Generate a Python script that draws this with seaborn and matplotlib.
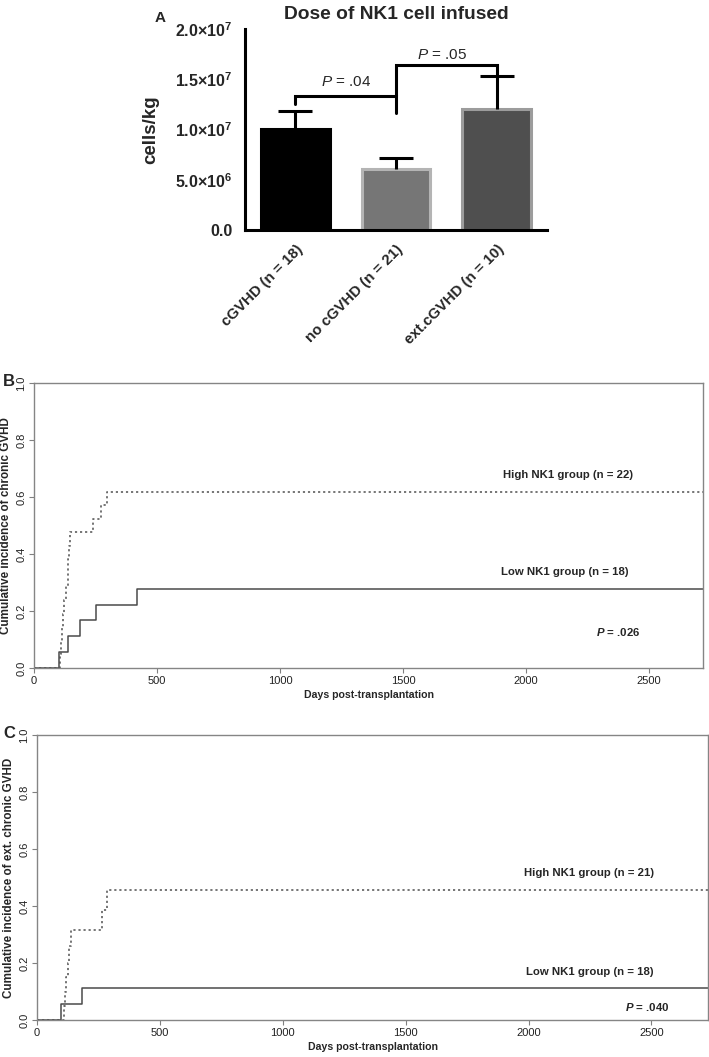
import matplotlib
matplotlib.use("Agg")
import matplotlib.pyplot as plt
import pandas as pd
import seaborn as sns

# ---- panel A: NK1 dose per group (mean + upper error) ----
groups = ["cGVHD (n = 18)", "no cGVHD (n = 21)", "ext.cGVHD (n = 10)"]
dose_mean = [1.00e7, 6.1e6, 1.20e7]
dose_err = [1.8e6, 1.1e6, 3.3e6]
bar_fill = ["#000000", "#767676", "#4f4f4f"]
bar_edge = ["#000000", "#b4b4b4", "#9c9c9c"]
a_yticks = [0, 5e6, 1e7, 1.5e7, 2e7]
a_yticklabels = ["0.0", r"$\mathbf{5.0{\times}10^{6}}$", r"$\mathbf{1.0{\times}10^{7}}$",
                 r"$\mathbf{1.5{\times}10^{7}}$", r"$\mathbf{2.0{\times}10^{7}}$"]
# significance brackets: (left bar, right bar, bar height, left leg end, right leg end)
brackets = [(0, 1, 1.335e7, 1.25e7, 1.16e7), (1, 2, 1.64e7, 1.335e7, 1.53e7)]
p_texts = [r"$\mathit{P}$ = .04", r"$\mathit{P}$ = .05"]
p_pos = [(0.5, 1.47e7), (1.46, 1.74e7)]

# ---- panel B: cumulative incidence of chronic GVHD ----
b_high_days = [0, 106, 111, 115, 119, 123, 131, 137, 140, 143, 146, 240, 272, 296, 2720]
b_high_ci = [0, 0.048, 0.095, 0.143, 0.190, 0.238, 0.286, 0.333, 0.381, 0.429, 0.476,
             0.524, 0.571, 0.619, 0.619]
b_low_days = [0, 100, 139, 188, 251, 420, 2720]
b_low_ci = [0, 0.056, 0.111, 0.167, 0.222, 0.278, 0.278]

# ---- panel C: cumulative incidence of extensive chronic GVHD ----
c_high_days = [0, 110, 114, 117, 126, 132, 138, 266, 286, 2730]
c_high_ci = [0, 0.05, 0.10, 0.15, 0.20, 0.26, 0.316, 0.386, 0.456, 0.456]
c_low_days = [0, 99, 182, 2730]
c_low_ci = [0, 0.056, 0.112, 0.112]

sns.set_style("white")
plt.rcParams["font.family"] = ["Liberation Sans", "DejaVu Sans"]
plt.rcParams["mathtext.fontset"] = "custom"
plt.rcParams["mathtext.rm"] = "Liberation Sans"
plt.rcParams["mathtext.it"] = "Liberation Sans:italic"
plt.rcParams["mathtext.bf"] = "Liberation Sans:bold"
plt.rcParams["mathtext.sf"] = "Liberation Sans:bold:italic"

fig = plt.figure(figsize=(7.09, 10.57), dpi=100)

# ================= A =================
axA = fig.add_axes([0.3456, 0.7824, 0.4259, 0.1902])
dfA = pd.DataFrame({"group": groups, "dose": dose_mean})
sns.barplot(data=dfA, x="group", y="dose", hue="group", palette=bar_fill,
            legend=False, errorbar=None, width=0.68, ax=axA)
for patch, ec in zip(axA.patches, bar_edge):
    patch.set_edgecolor(ec)
    patch.set_linewidth(2.2)
eb = axA.errorbar(range(len(groups)), dose_mean, yerr=[[0] * len(groups), dose_err],
                  fmt="none", ecolor="black", elinewidth=2.2, capsize=12, capthick=2.2, zorder=5)
eb[1][0].set_visible(False)  # drop the cap sitting on top of the bar
for (x0, x1, yb, yl, yr) in brackets:
    axA.plot([x0, x0, x1, x1], [yl, yb, yb, yr], color="black", lw=2.2,
             solid_joinstyle="miter", zorder=6)
for txt, (px, py) in zip(p_texts, p_pos):
    axA.text(px, py, txt, ha="center", va="center", fontsize=11)

axA.set_xlim(-0.5, 2.5)
axA.set_ylim(0, 2e7)
axA.set_yticks(a_yticks)
axA.set_yticklabels(a_yticklabels, fontsize=11.5, fontweight="bold")
axA.set_xticks(range(len(groups)))
axA.set_xticklabels(groups, rotation=45, ha="right", rotation_mode="anchor",
                    fontsize=10.8, fontweight="bold")
axA.set_xlabel("")
axA.set_ylabel("cells/kg", fontsize=13.5, fontweight="bold")
axA.yaxis.set_label_coords(-0.285, 0.5)
axA.set_title("Dose of NK1 cell infused", fontsize=13.8, fontweight="bold", pad=7)
sns.despine(ax=axA)
for sp in ("left", "bottom"):
    axA.spines[sp].set_linewidth(2.2)
    axA.spines[sp].set_color("black")
axA.tick_params(axis="both", direction="out", length=6, width=2.2, color="black", pad=3)
fig.text(0.226, 0.990, "A", fontsize=11, fontweight="bold", va="top", ha="center")


# ================= B / C =================
def incidence_panel(rect, hi_days, hi_ci, lo_days, lo_ci, ylabel, hi_txt, lo_txt, p_txt,
                    hi_pos, lo_pos, p_xy, xmax):
    ax = fig.add_axes(rect)
    dfh = pd.DataFrame({"day": hi_days, "ci": hi_ci})
    dfl = pd.DataFrame({"day": lo_days, "ci": lo_ci})
    sns.lineplot(data=dfh, x="day", y="ci", drawstyle="steps-post", color="#6a6a6a",
                 linestyle=(0, (1.2, 1.6)), lw=1.3, ax=ax)
    sns.lineplot(data=dfl, x="day", y="ci", drawstyle="steps-post", color="#4a4a4a",
                 lw=1.1, ax=ax)
    ax.set_xlim(0, xmax)
    ax.set_ylim(0, 1)
    ax.set_xticks([0, 500, 1000, 1500, 2000, 2500])
    ax.set_yticks([0, 0.2, 0.4, 0.6, 0.8, 1.0])
    ax.set_yticklabels(["0.0", "0.2", "0.4", "0.6", "0.8", "1.0"], rotation=90, va="center")
    for lab in ax.get_xticklabels() + ax.get_yticklabels():
        lab.set_fontsize(8)
        lab.set_family(["Liberation Sans Narrow", "Liberation Sans"])
        lab.set_color("#222222")
    ax.tick_params(axis="both", direction="out", length=3.5, width=0.8, color="#808080",
                   pad=2, left=True, bottom=True)
    for sp in ax.spines.values():
        sp.set_visible(True)
        sp.set_color("#858585")
        sp.set_linewidth(1.0)
    ax.set_xlabel("Days post-transplantation", fontsize=7.6, fontweight="bold", labelpad=3)
    ax.set_ylabel(ylabel, fontsize=8.4, fontweight="bold", labelpad=3)
    ax.text(*hi_pos, hi_txt, ha="center", va="center", fontsize=8.2, fontweight="bold")
    ax.text(*lo_pos, lo_txt, ha="center", va="center", fontsize=8.2, fontweight="bold")
    ax.text(*p_xy, p_txt, ha="center", va="center", fontsize=8.2, fontweight="bold")
    return ax


incidence_panel([0.048, 0.368, 0.9435, 0.2697], b_high_days, b_high_ci, b_low_days, b_low_ci,
                "Cumulative incidence of chronic GVHD",
                "High NK1 group (n = 22)", "Low NK1 group (n = 18)", r"$\mathsf{P}$ = .026",
                (2171, 0.677), (2159, 0.337), (2375, 0.126), 2720)
fig.text(0.013, 0.646, "B", fontsize=12, fontweight="bold", va="top", ha="center")

incidence_panel([0.0522, 0.035, 0.9464, 0.2696], c_high_days, c_high_ci, c_low_days, c_low_ci,
                "Cumulative incidence of ext. chronic GVHD",
                "High NK1 group (n = 21)", "Low NK1 group (n = 18)", r"$\mathsf{P}$ = .040",
                (2248, 0.516), (2248, 0.168), (2484, 0.046), 2730)
fig.text(0.013, 0.313, "C", fontsize=12, fontweight="bold", va="top", ha="center")

fig.savefig("out.png", dpi=100)
